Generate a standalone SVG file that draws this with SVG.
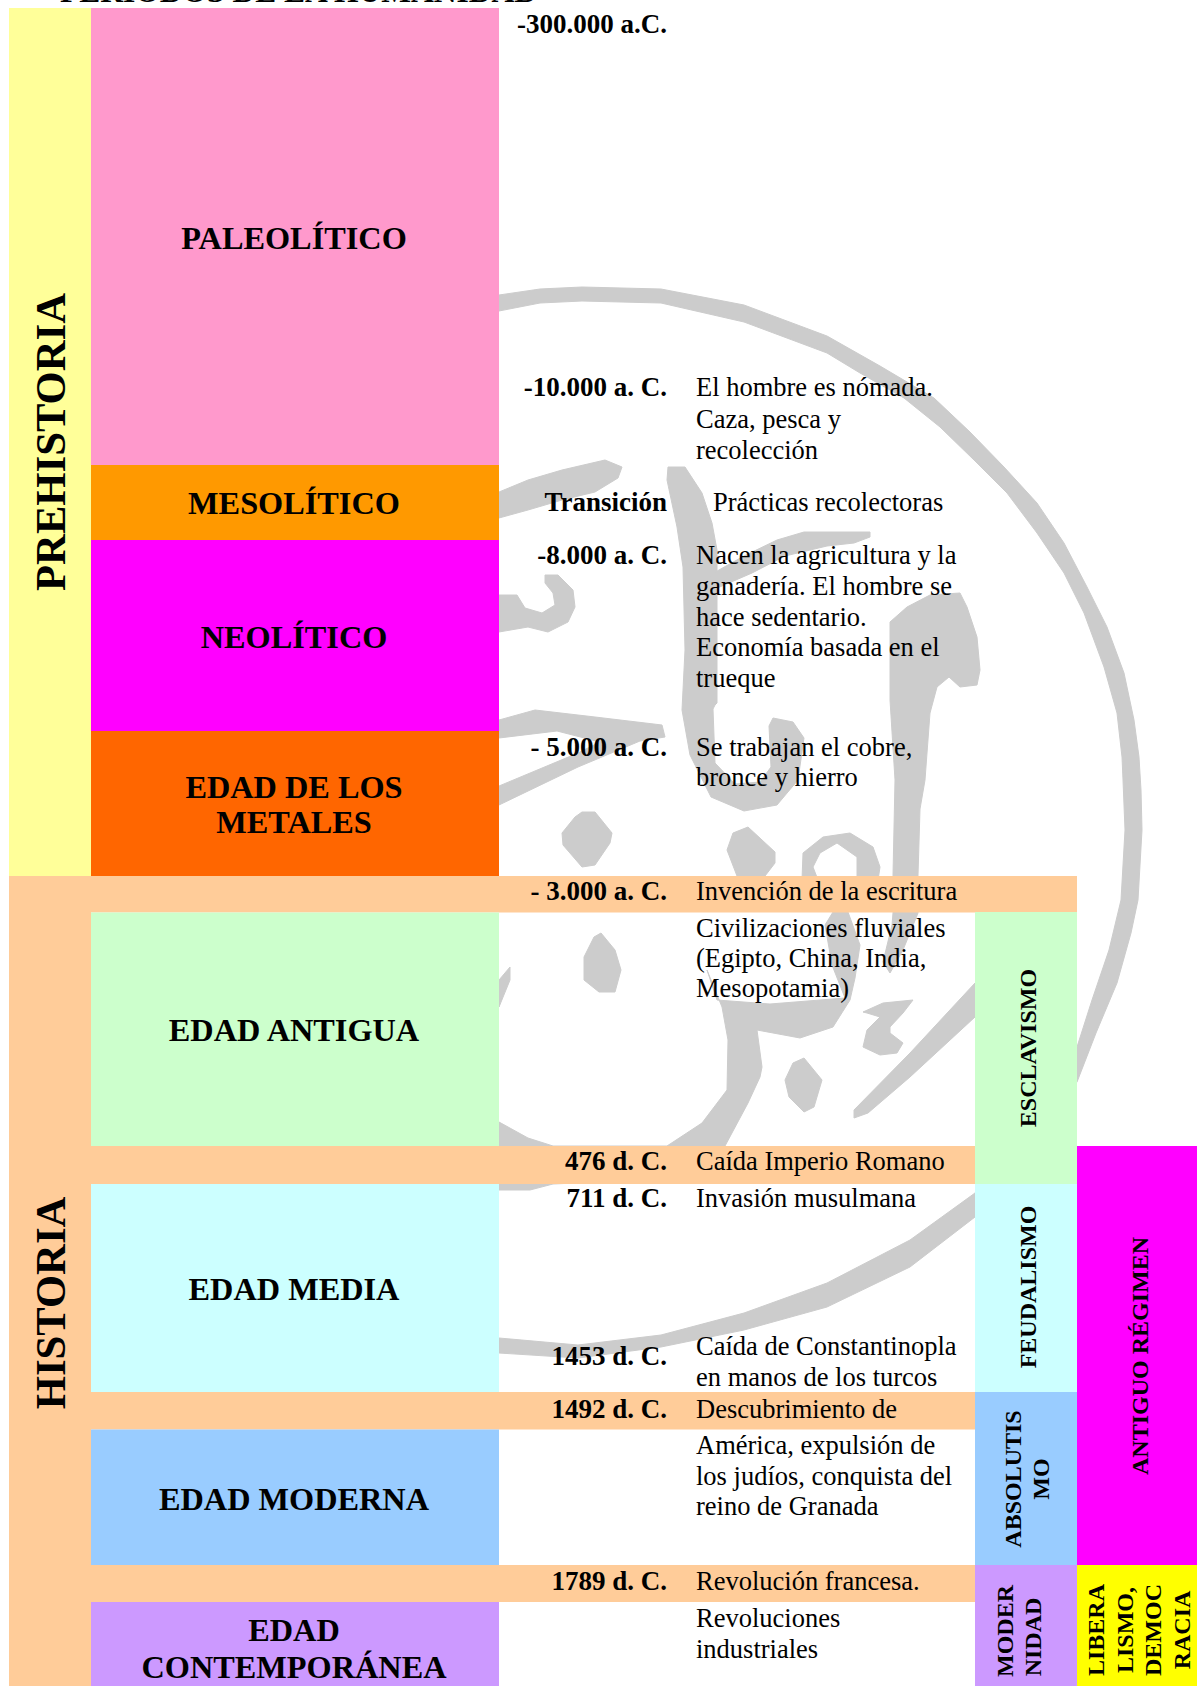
<svg xmlns="http://www.w3.org/2000/svg" width="1197" height="1686" viewBox="0 0 1197 1686">
<style>
text{font-family:"Liberation Serif","Times New Roman",serif;fill:#000}
.h{font-weight:700;font-size:32.3px;text-anchor:middle}
.big{font-weight:700;font-size:42.67px;text-anchor:middle}
.v{font-weight:700;font-size:24px;text-anchor:middle}
.d{font-weight:700;font-size:27px;text-anchor:end}
.t{font-size:26.5px}
.wm{fill:#ccc;stroke:#ccc;stroke-width:1;stroke-linejoin:round}
</style>
<rect width="1197" height="1686" fill="#fff"/>
<g id="watermark" class="wm">
<path d="M499 295L540 289 582 287 661 289 744 305 827 336 880 366 934 398 970 432 1004 467 1037 503 1064 543 1087 587 1107 627 1124 673 1134 720 1139 757 1141 790 1142 830 1138 900 1131 933 1117 983 1096 1033 1077 1082 975 1217 910 1267 827 1307 744 1330 661 1347 578 1358 499 1353 499 1338 578 1345 661 1335 744 1313 827 1283 910 1240 975 1193 1077 1047 1092 1000 1109 950 1121 900 1125 830 1123 780 1122 757 1117 713 1104 667 1084 613 1064 573 1037 533 1007 493 974 460 940 427 904 398 860 373 827 353 744 322 661 303 582 301 540 303 499 311Z"/>
<path d="M499 492L528 480 562 470 605 460 622 467 618 478 595 492 562 500 528 510 499 518Z"/>
<path d="M668 467L685 467 702 493 712 523 717 550 717 703 715 705 713 709 715 763 735 784 760 782 771 767 769 726 773 718 793 722 804 738 798 780 777 805 744 811 711 797 690 755 682 710 685 650 683 567 677 527 667 480Z"/>
<path d="M710 575L744 556 777 540 804 532 870 532 870 537 854 543 827 546 785 556 752 573 715 589Z"/>
<path d="M545 575L558 575 573 590 575 607 568 622 548 632 528 627 499 632 499 595 517 595 525 608 542 613 555 605 553 593 545 583Z"/>
<path d="M499 720L535 710 595 717 662 725 665 737 640 741 578 767 499 805 499 786 578 753 600 742 557 731 499 738Z"/>
<path d="M960 593L930 595 907 607 890 622 890 700 895 780 893 875 893 913 892 925 883 962 890 973 903 950 918 913 918 875 920 809 925 780 930 713 937 687 949 677 960 687 977 685 980 670 977 637 967 607Z"/>
<path d="M582 812L595 812 612 833 610 843 595 865 582 867 563 845 562 833 575 817Z"/>
<path d="M748 827L775 852 775 863 765 876 737 876 727 850 733 833Z"/>
<path d="M802 880L803 853 823 837 850 833 873 847 880 867 878 880 857 880 857 857 837 843 820 853 813 867 818 880Z"/>
<path d="M601 933L615 950 621 970 615 992 599 992 584 980 584 957 594 937Z"/>
<path d="M499 980L510 967 510 980 499 1007Z"/>
<path d="M833 912L848 912 860 945 855 978 850 1000 833 1027 800 1038 757 1030 762 1067 760 1077 748 1103 725 1146 700 1165 640 1180 553 1184 530 1190 499 1190 499 1122 528 1138 553 1146 667 1146 702 1123 727 1090 728 1040 722 1007 707 970 717 1000 770 1004 845 998 832 965 825 925Z"/>
<path d="M975 983L910 1053 854 1110 854 1118 868 1113 910 1077 975 1017Z"/>
<path d="M863 1012L883 1003 913 1000 903 1013 890 1027 890 1033 903 1043 897 1053 880 1055 863 1047 867 1030 880 1017 867 1013Z"/>
<path d="M804 1058L822 1080 814 1107 804 1112 789 1097 785 1080 793 1063Z"/>
</g>
<g id="title"><text x="60" y="2" font-size="31.5" font-weight="700">PERIODOS DE LA HUMANIDAD</text></g>
<g id="prehistoria"><rect x="9" y="8" width="82" height="868" fill="#ff9"/><text class="big" transform="translate(65 442) rotate(-90)">PREHISTORIA</text></g>
<g id="historia"><rect x="9" y="876" width="82" height="810" fill="#fc9"/><text class="big" transform="translate(65 1303) rotate(-90)">HISTORIA</text></g>
<g id="paleolitico"><rect x="91" y="8" width="408" height="457" fill="#f9c"/><text class="h" x="294" y="249">PALEOLÍTICO</text>
<text class="d" x="667" y="33">-300.000 a.C.</text>
<text class="d" x="667" y="396">-10.000 a. C.</text>
<text class="t" x="696" y="396">El hombre es nómada.</text><text class="t" x="696" y="428">Caza, pesca y</text><text class="t" x="696" y="459">recolección</text></g>
<g id="mesolitico"><rect x="91" y="465" width="408" height="75" fill="#f90"/><text class="h" x="294" y="514">MESOLÍTICO</text>
<text class="d" x="667" y="511">Transición</text><text class="t" x="713" y="511">Prácticas recolectoras</text></g>
<g id="neolitico"><rect x="91" y="540" width="408" height="191" fill="#f0f"/><text class="h" x="294" y="648">NEOLÍTICO</text>
<text class="d" x="667" y="564">-8.000 a. C.</text>
<text class="t" x="696" y="564">Nacen la agricultura y la</text><text class="t" x="696" y="595">ganadería. El hombre se</text><text class="t" x="696" y="626">hace sedentario.</text><text class="t" x="696" y="656">Economía basada en el</text><text class="t" x="696" y="687">trueque</text></g>
<g id="metales"><rect x="91" y="731" width="408" height="145" fill="#f60"/><text class="h" x="294" y="798">EDAD DE LOS</text><text class="h" x="294" y="833">METALES</text>
<text class="d" x="667" y="756">- 5.000 a. C.</text>
<text class="t" x="696" y="756">Se trabajan el cobre,</text><text class="t" x="696" y="786">bronce y hierro</text></g>
<g id="banda-3000"><rect x="91" y="876" width="986" height="36.500" fill="#fc9"/>
<text class="d" x="667" y="900">- 3.000 a. C.</text><text class="t" x="696" y="900">Invención de la escritura</text></g>
<g id="antigua"><rect x="91" y="912.500" width="408" height="233.500" fill="#cfc"/><text class="h" x="294" y="1041">EDAD ANTIGUA</text>
<text class="t" x="696" y="937">Civilizaciones fluviales</text><text class="t" x="696" y="967">(Egipto, China, India,</text><text class="t" x="696" y="997">Mesopotamia)</text></g>
<g id="banda-476"><rect x="91" y="1146" width="884" height="38" fill="#fc9"/>
<text class="d" x="667" y="1170">476 d. C.</text><text class="t" x="696" y="1170">Caída Imperio Romano</text></g>
<g id="media"><rect x="91" y="1184" width="408" height="208" fill="#cff"/><text class="h" x="294" y="1300">EDAD MEDIA</text>
<text class="d" x="667" y="1207">711 d. C.</text><text class="t" x="696" y="1207">Invasión musulmana</text>
<text class="d" x="667" y="1365">1453 d. C.</text><text class="t" x="696" y="1355">Caída de Constantinopla</text><text class="t" x="696" y="1386">en manos de los turcos</text></g>
<g id="banda-1492"><rect x="91" y="1392" width="884" height="37.500" fill="#fc9"/>
<text class="d" x="667" y="1418">1492 d. C.</text><text class="t" x="696" y="1418">Descubrimiento de</text></g>
<g id="moderna"><rect x="91" y="1429.500" width="408" height="135.500" fill="#9cf"/><text class="h" x="294" y="1510">EDAD MODERNA</text>
<text class="t" x="696" y="1454">América, expulsión de</text><text class="t" x="696" y="1485">los judíos, conquista del</text><text class="t" x="696" y="1515">reino de Granada</text></g>
<g id="banda-1789"><rect x="91" y="1565" width="884" height="37" fill="#fc9"/>
<text class="d" x="667" y="1590">1789 d. C.</text><text class="t" x="696" y="1590">Revolución francesa.</text></g>
<g id="contemporanea"><rect x="91" y="1602" width="408" height="84" fill="#c9f"/><text class="h" x="294" y="1641">EDAD</text><text class="h" x="294" y="1678">CONTEMPORÁNEA</text>
<text class="t" x="696" y="1627">Revoluciones</text><text class="t" x="696" y="1658">industriales</text></g>
<g id="esclavismo"><rect x="975" y="912" width="102" height="272" fill="#cfc"/><text class="v" transform="translate(1035.500 1048) rotate(-90)">ESCLAVISMO</text></g>
<g id="feudalismo"><rect x="975" y="1184" width="102" height="208" fill="#cff"/><text class="v" transform="translate(1035.500 1287) rotate(-90)">FEUDALISMO</text></g>
<g id="absolutismo"><rect x="975" y="1392" width="102" height="173" fill="#9cf"/><text class="v" transform="translate(1021 1479) rotate(-90)">ABSOLUTIS</text><text class="v" transform="translate(1049 1479) rotate(-90)">MO</text></g>
<g id="modernidad"><rect x="975" y="1565" width="102" height="121" fill="#c9f"/><text class="v" transform="translate(1013 1631) rotate(-90)">MODER</text><text class="v" transform="translate(1040.500 1637) rotate(-90)">NIDAD</text></g>
<g id="antiguo-regimen"><rect x="1077" y="1146" width="120" height="419" fill="#f0f"/><text class="v" transform="translate(1147.500 1356) rotate(-90)">ANTIGUO RÉGIMEN</text></g>
<g id="liberalismo"><rect x="1077" y="1565" width="120" height="121" fill="#ff0"/><text class="v" transform="translate(1104 1630) rotate(-90)">LIBERA</text><text class="v" transform="translate(1133 1630) rotate(-90)">LISMO,</text><text class="v" transform="translate(1161 1630) rotate(-90)">DEMOC</text><text class="v" transform="translate(1190 1630) rotate(-90)">RACIA</text></g>
</svg>
